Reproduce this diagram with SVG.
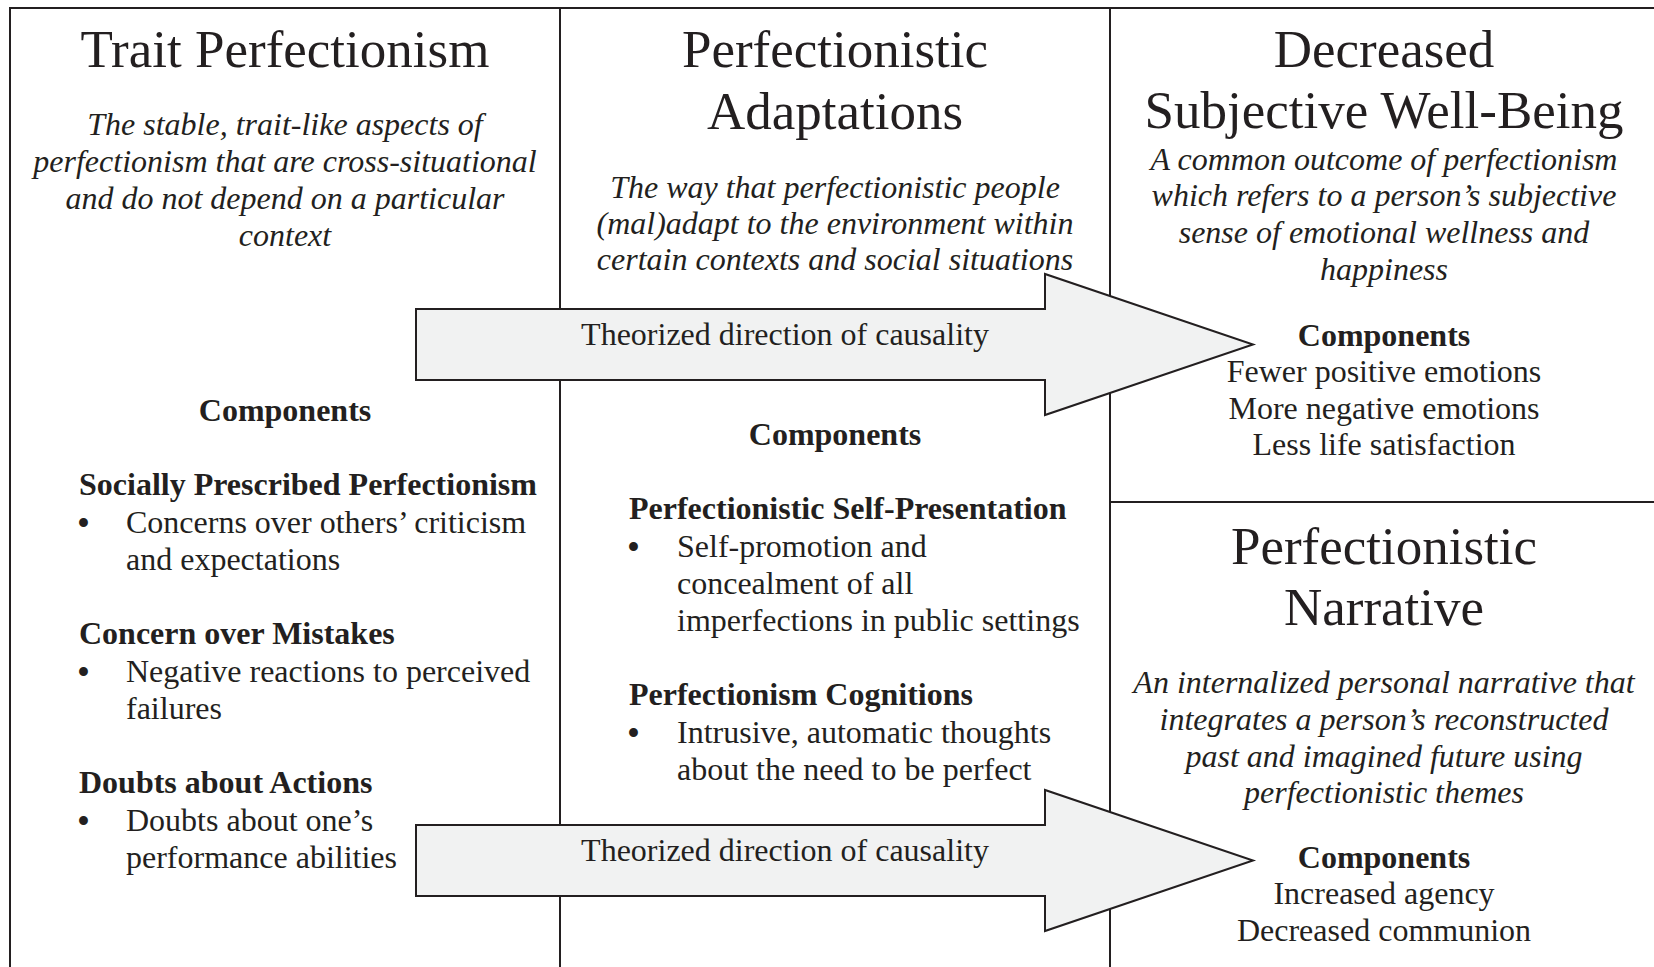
<svg xmlns="http://www.w3.org/2000/svg" width="1654" height="967" viewBox="0 0 1654 967">
  <defs>
    <style>
      .frame { fill: none; stroke: #231f20; stroke-width: 2; }
      .arrow { fill: #f1f2f2; stroke: #231f20; stroke-width: 2; stroke-linejoin: miter; }
      text { font-family: "Liberation Serif", "Times New Roman", serif; fill: #231f20; }
      .title { font-size: 53px; text-anchor: middle; }
      .desc { font-size: 32px; font-style: italic; text-anchor: middle; }
      .comp { font-size: 32px; font-weight: bold; text-anchor: middle; }
      .head { font-size: 32px; font-weight: bold; }
      .body { font-size: 32px; }
      .mid { font-size: 32px; text-anchor: middle; }
      .bullet { font-size: 37px; }
      .label { font-size: 32px; text-anchor: middle; }
    </style>
  </defs>
  <rect width="1654" height="967" fill="#ffffff"/>

  <!-- Column 1: trait perfectionism -->
  <g id="trait-perfectionism">
    <rect class="frame" x="10" y="8" width="550" height="980"/>
    <text class="title" x="285" y="67">Trait Perfectionism</text>
    <text class="desc" x="285" y="135">The stable, trait-like aspects of</text>
    <text class="desc" x="285" y="172">perfectionism that are cross-situational</text>
    <text class="desc" x="285" y="209">and do not depend on a particular</text>
    <text class="desc" x="285" y="246">context</text>
    <text class="comp" x="285" y="421">Components</text>
    <text class="head" x="79" y="495">Socially Prescribed Perfectionism</text>
    <text class="bullet" x="77" y="536">•</text>
    <text class="body" x="126" y="533">Concerns over others’ criticism</text>
    <text class="body" x="126" y="570">and expectations</text>
    <text class="head" x="79" y="644">Concern over Mistakes</text>
    <text class="bullet" x="77" y="685">•</text>
    <text class="body" x="126" y="682">Negative reactions to perceived</text>
    <text class="body" x="126" y="719">failures</text>
    <text class="head" x="79" y="793">Doubts about Actions</text>
    <text class="bullet" x="77" y="834">•</text>
    <text class="body" x="126" y="831">Doubts about one’s</text>
    <text class="body" x="126" y="868">performance abilities</text>
  </g>

  <!-- Column 2: perfectionistic adaptations -->
  <g id="perfectionistic-adaptations">
    <rect class="frame" x="560" y="8" width="550" height="980"/>
    <text class="title" x="835" y="67">Perfectionistic</text>
    <text class="title" x="835" y="129">Adaptations</text>
    <text class="desc" x="835" y="198">The way that perfectionistic people</text>
    <text class="desc" x="835" y="234">(mal)adapt to the environment within</text>
    <text class="desc" x="835" y="270">certain contexts and social situations</text>
    <text class="comp" x="835" y="445">Components</text>
    <text class="head" x="629" y="519">Perfectionistic Self-Presentation</text>
    <text class="bullet" x="627" y="560">•</text>
    <text class="body" x="677" y="557">Self-promotion and</text>
    <text class="body" x="677" y="594">concealment of all</text>
    <text class="body" x="677" y="631">imperfections in public settings</text>
    <text class="head" x="629" y="705">Perfectionism Cognitions</text>
    <text class="bullet" x="627" y="746">•</text>
    <text class="body" x="677" y="743">Intrusive, automatic thoughts</text>
    <text class="body" x="677" y="780">about the need to be perfect</text>
  </g>

  <!-- Column 3, upper: decreased subjective well-being -->
  <g id="decreased-well-being">
    <rect class="frame" x="1110" y="8" width="560" height="494"/>
    <text class="title" x="1384" y="67">Decreased</text>
    <text class="title" x="1384" y="128">Subjective Well-Being</text>
    <text class="desc" x="1384" y="170">A common outcome of perfectionism</text>
    <text class="desc" x="1384" y="206">which refers to a person’s subjective</text>
    <text class="desc" x="1384" y="243">sense of emotional wellness and</text>
    <text class="desc" x="1384" y="280">happiness</text>
    <text class="comp" x="1384" y="346">Components</text>
    <text class="mid" x="1384" y="382">Fewer positive emotions</text>
    <text class="mid" x="1384" y="419">More negative emotions</text>
    <text class="mid" x="1384" y="455">Less life satisfaction</text>
  </g>

  <!-- Column 3, lower: perfectionistic narrative -->
  <g id="perfectionistic-narrative">
    <rect class="frame" x="1110" y="502" width="560" height="486"/>
    <text class="title" x="1384" y="564">Perfectionistic</text>
    <text class="title" x="1384" y="625">Narrative</text>
    <text class="desc" x="1384" y="693">An internalized personal narrative that</text>
    <text class="desc" x="1384" y="730">integrates a person’s reconstructed</text>
    <text class="desc" x="1384" y="767">past and imagined future using</text>
    <text class="desc" x="1384" y="803">perfectionistic themes</text>
    <text class="comp" x="1384" y="868">Components</text>
    <text class="mid" x="1384" y="904">Increased agency</text>
    <text class="mid" x="1384" y="941">Decreased communion</text>
  </g>

  <!-- Block arrows showing the theorized causal direction -->
  <g id="connectors">
    <g id="causality-upper">
      <polygon class="arrow" points="416,309 1045,309 1045,274 1253,344.5 1045,415 1045,380 416,380"/>
      <text class="label" x="785" y="345">Theorized direction of causality</text>
    </g>
    <g id="causality-lower">
      <polygon class="arrow" points="416,825 1045,825 1045,790 1253,860.5 1045,931 1045,896 416,896"/>
      <text class="label" x="785" y="861">Theorized direction of causality</text>
    </g>
  </g>
</svg>
